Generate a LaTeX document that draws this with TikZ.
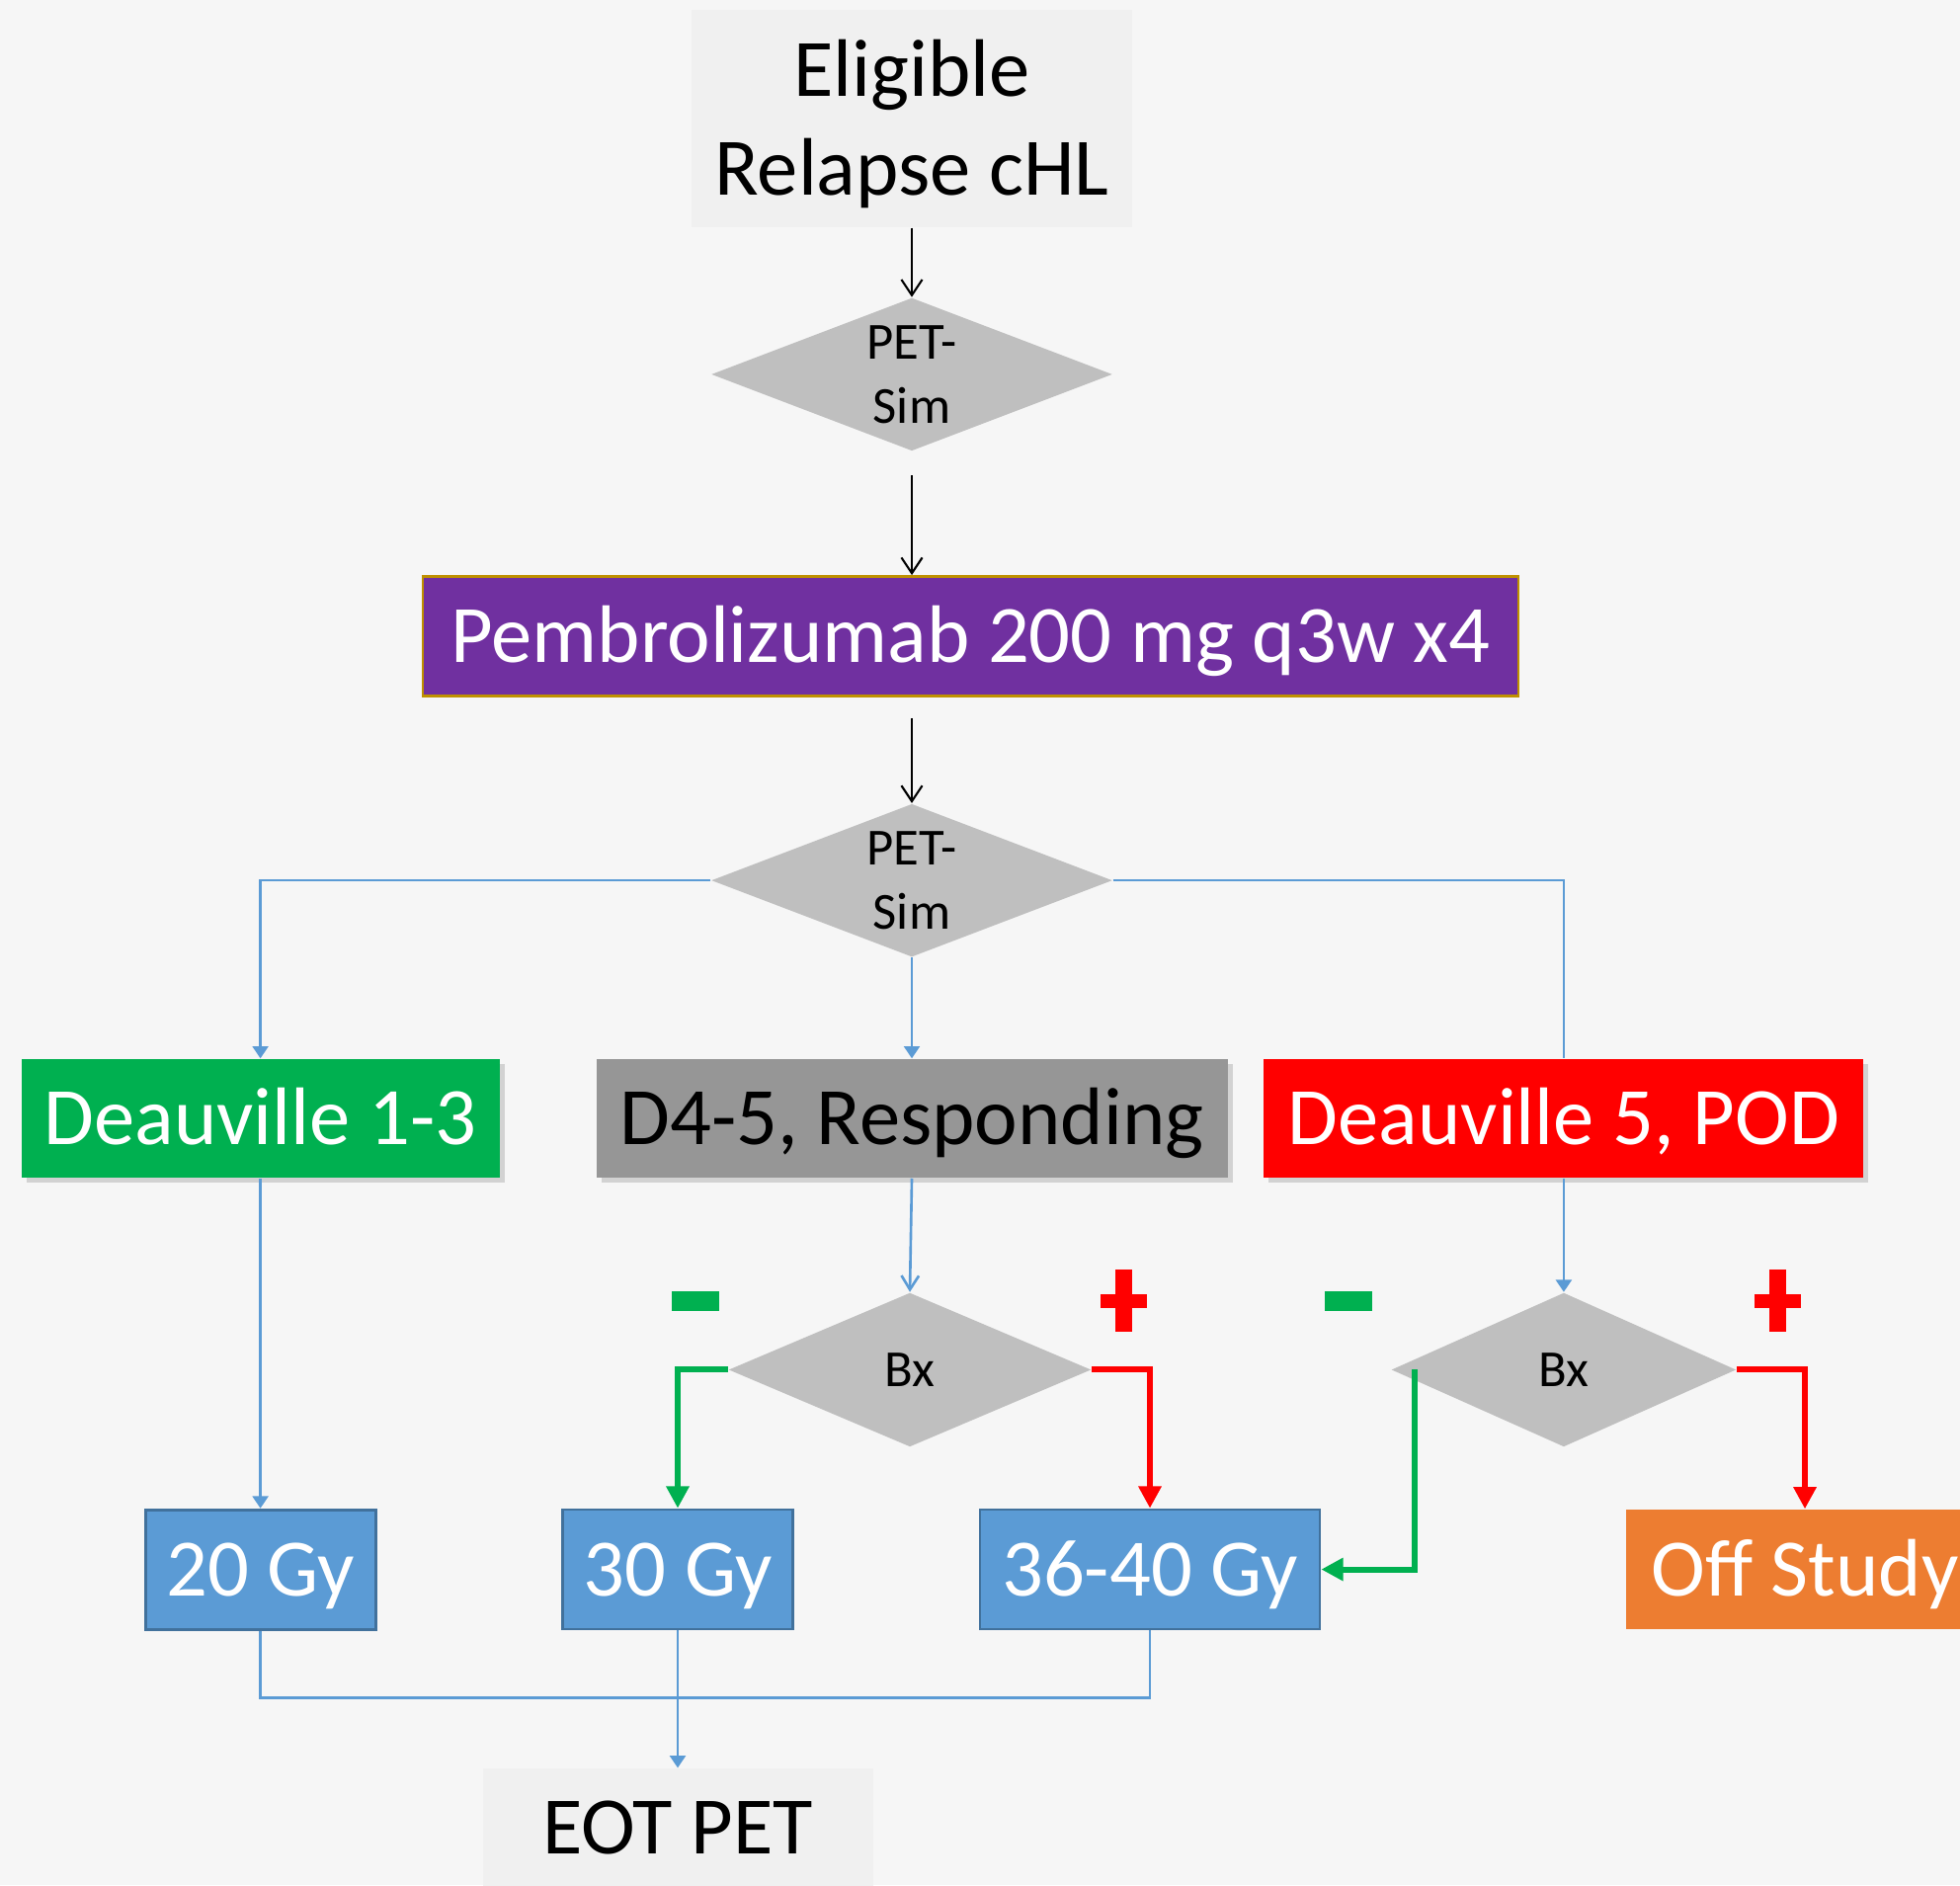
\documentclass[tikz,border=0pt]{standalone}
\usepackage{fontspec}
\setmainfont{Carlito}
\usetikzlibrary{positioning,shapes.geometric,arrows.meta,shadows}

\definecolor{bgfill}{HTML}{F6F6F6}
\definecolor{paleface}{HTML}{F0F0F0}
\definecolor{pembrofill}{HTML}{7030A0}
\definecolor{pembroline}{HTML}{BF9000}
\definecolor{diamgrey}{HTML}{BFBFBF}
\definecolor{dvgreen}{HTML}{00B050}
\definecolor{dvgrey}{HTML}{969696}
\definecolor{dvred}{HTML}{FF0000}
\definecolor{gyfill}{HTML}{5B9BD5}
\definecolor{gyline}{HTML}{41719C}
\definecolor{offfill}{HTML}{ED7D31}
\definecolor{flowblue}{HTML}{5B9BD5}

\begin{document}
\begin{tikzpicture}[
    bigtext/.style={font=\fontsize{23.5}{28.45}\selectfont},
    smalltext/.style={font=\fontsize{15}{18.5}\selectfont},
    box/.style={rectangle, inner sep=0, minimum height=1.2cm, bigtext, text=white, text height=0.75cm, text depth=0.22cm},
    gybox/.style={box, fill=gyfill, draw=gyline, line width=0.8pt, minimum height=1.21cm},
    boxshadow/.style={drop shadow={shadow xshift=0.05cm, shadow yshift=-0.05cm, opacity=0.3}},
    decision/.style={diamond, aspect=2.6, inner sep=0, fill=diamgrey, smalltext, align=center, minimum height=1.55cm},
    blackarrow/.style={-{Straight Barb[length=4.5pt,width=6pt]}, line width=0.6pt},
    flow/.style={draw=flowblue, line width=0.75pt},
    bluetip/.style={-{Triangle[length=3.5pt,width=4.5pt]}},
    negflow/.style={draw=dvgreen, line width=1.7pt, -{Triangle[length=6.3pt,width=6.3pt]}},
    posflow/.style={draw=dvred, line width=1.7pt, -{Triangle[length=6.3pt,width=6.3pt]}},
    minusmark/.style={rectangle, fill=dvgreen, inner sep=0, minimum width=0.48cm, minimum height=0.2cm},
    plusbar/.style={rectangle, fill=dvred, inner sep=0}
  ]
  \useasboundingbox (0,0) rectangle (19.84,-19.08);
  \fill [bgfill] (0,0) rectangle (19.84,-19.08);

  % top of the flow
  \node [rectangle, fill=paleface, inner sep=0, minimum width=4.46cm, minimum height=2.2cm, align=center, bigtext, text height=1.74cm, text depth=0.2cm] (elig) at (9.23,-1.2) {Eligible\\Relapse cHL};
  \node [decision, minimum width=4.06cm, below=0.70cm of elig] (pet1) {PET-\\Sim};
  \node [box, fill=pembrofill, draw=pembroline, line width=0.8pt, minimum width=11.09cm, minimum height=1.21cm, below=1.25cm of pet1, xshift=0.595cm] (pembro) {Pembrolizumab 200 mg q3w x4};
  \node [decision, minimum width=4.06cm, below=1.07cm of pembro, xshift=-0.595cm] (pet2) {PET-\\Sim};

  % response groups
  \node [box, fill=dvgrey, text=black, boxshadow, minimum width=6.39cm, below=1.02cm of pet2] (d45) {D4-5, Responding};
  \node [box, fill=dvgreen, boxshadow, minimum width=4.84cm, left=0.965cm of d45] (dv13) {Deauville 1-3};
  \node [box, fill=dvred, boxshadow, minimum width=6.07cm, right=0.355cm of d45] (dv5) {Deauville 5, POD};

  \node [decision, aspect=2.35, minimum width=3.67cm, minimum height=1.56cm, below=1.15cm of d45, xshift=-0.02cm] (bx1) {Bx};
  \node [decision, aspect=2.25, minimum width=3.49cm, minimum height=1.56cm, below=1.15cm of dv5] (bx2) {Bx};

  % doses
  \node [gybox, minimum width=2.33cm, below=3.34cm of dv13] (gy20) {20 Gy};
  \node [gybox, minimum width=2.33cm] (gy30) at (6.86,-15.885) {30 Gy};
  \node [gybox, minimum width=3.44cm] (gy36) at (11.64,-15.885) {36-40 Gy};
  \node [box, fill=offfill, minimum width=3.62cm, minimum height=1.21cm] (off) at (18.27,-15.885) {Off Study};
  \node [box, fill=paleface, text=black, minimum width=3.95cm, below=1.39cm of gy30] (eot) {EOT PET};

  % biopsy signs
  \node [minusmark] (neg1) at (7.035,-13.17) {};
  \node [minusmark] (neg2) at (13.645,-13.17) {};
  \node [plusbar, minimum width=0.17cm, minimum height=0.63cm] (pos1) at (11.375,-13.165) {};
  \node [plusbar, minimum width=0.47cm, minimum height=0.14cm] (pos1h) at (pos1) {};
  \node [plusbar, minimum width=0.17cm, minimum height=0.63cm] (pos2) at (17.99,-13.165) {};
  \node [plusbar, minimum width=0.47cm, minimum height=0.14cm] (pos2h) at (pos2) {};

  \draw [blackarrow] (elig) -- (pet1);
  \draw [blackarrow, shorten <=0.24cm] (pet1) -- (pet1.south |- pembro.north);
  \draw [blackarrow, shorten <=0.21cm] (pet2.north |- pembro.south) -- (pet2.north);

  \draw [flow, bluetip] (pet2.west) -| (dv13.north);
  \draw [flow] (pet2.east) -| (dv5.north);
  \draw [flow, bluetip] (pet2) -- (d45);
  \draw [flow, bluetip] (dv13) -- (gy20);
  \draw [flow, -{Straight Barb[length=4pt,width=5pt]}] (d45.south) -- (bx1.north);
  \draw [flow, bluetip] (dv5.south) -- (bx2.north);
  \draw [flow] (gy20.south) -- ++(0,-0.68) -| (gy36.south);
  \draw [flow, bluetip] (gy30) -- (eot);

  \draw [negflow] (bx1.west) -| (gy30.north);
  \draw [posflow] (bx1.east) -| (gy36.north);
  \draw [negflow] ([xshift=0.24cm]bx2.west) |- (gy36.east);
  \draw [posflow] (bx2.east) -| (off.north);
\end{tikzpicture}
\end{document}
